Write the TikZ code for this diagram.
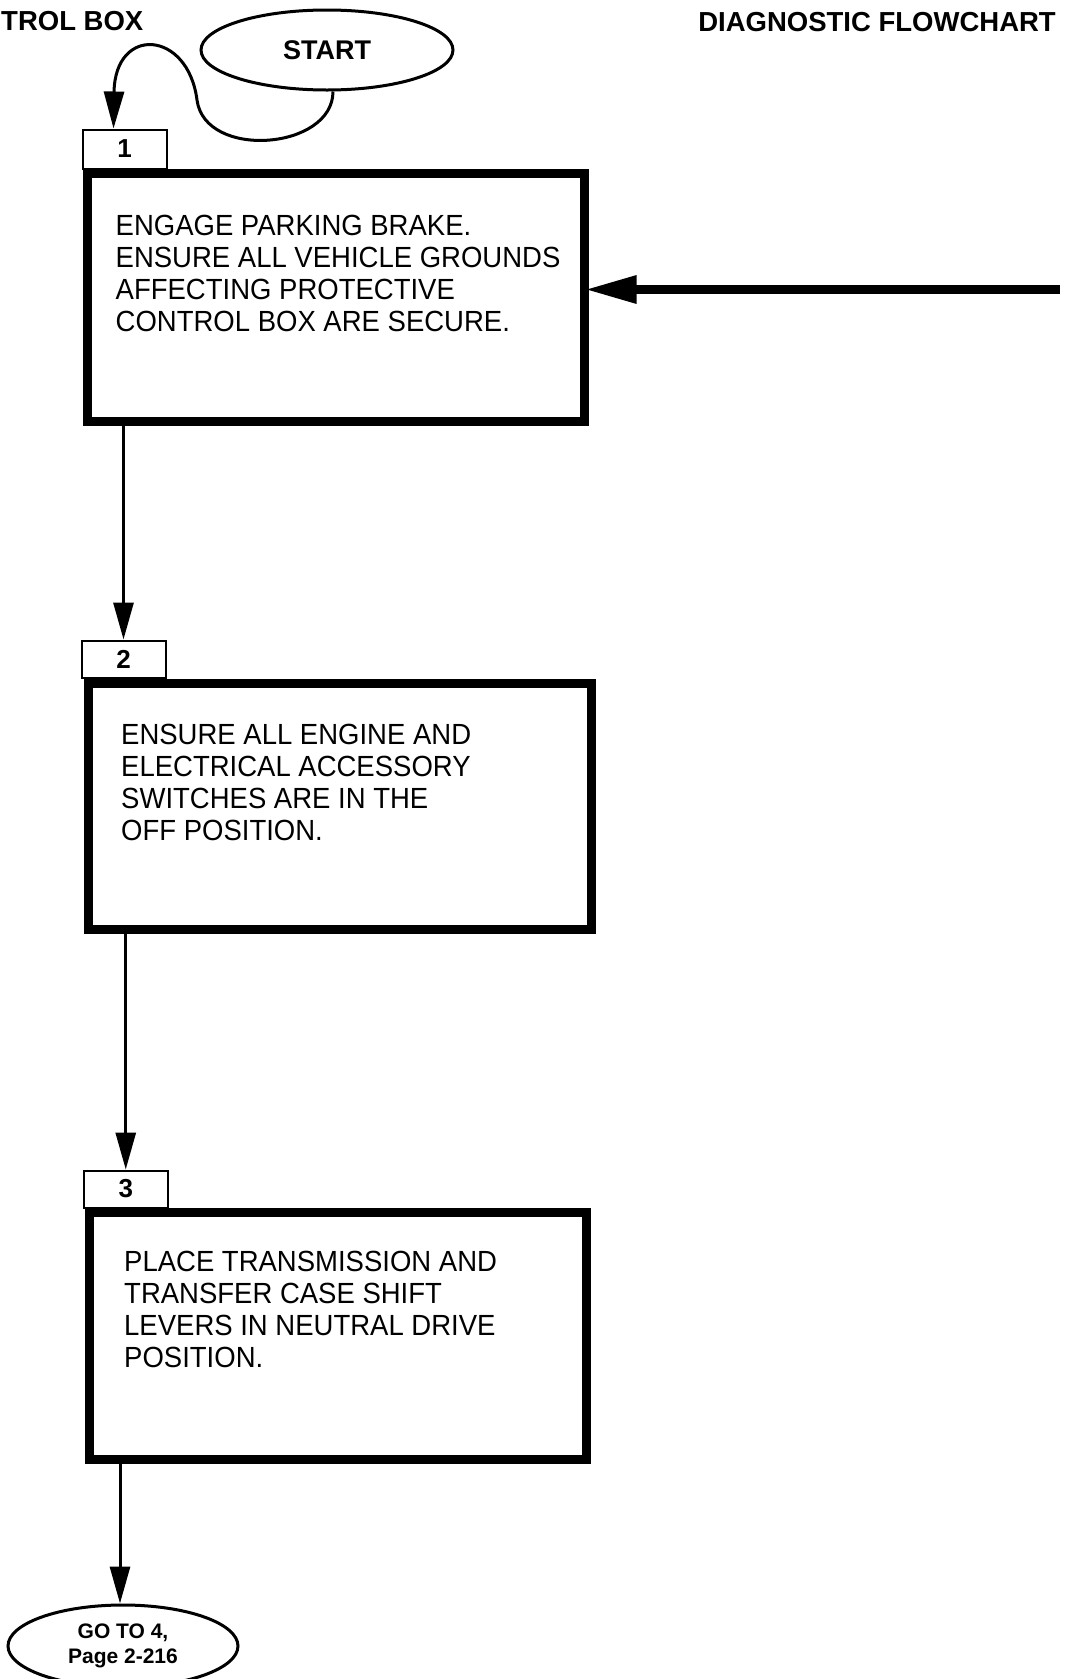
\documentclass[tikz,border=0pt]{standalone}
\usepackage{fontspec}
\setmainfont{Liberation Sans}
\usetikzlibrary{arrows.meta,calc,shapes.geometric}

\begin{document}
\begin{tikzpicture}[x=1pt,y=-1pt,
  stepbox/.style={draw, rectangle, line width=9pt, inner sep=0pt},
  tab/.style={draw, rectangle, line width=2pt, inner sep=0pt,
    font=\bfseries\fontsize{26}{26}\selectfont},
  body/.style={anchor=north west, inner sep=0pt, align=left, yscale=1.06,
    font=\fontsize{27.5}{30.2}\selectfont},
  term/.style={draw, ellipse, line width=3pt, inner sep=0pt, align=center},
  head/.style={inner sep=0pt, font=\bfseries\fontsize{27.5}{27.5}\selectfont},
  flow/.style={line width=3pt, -{Triangle[length=37pt,width=20pt]}},
  feed/.style={line width=9pt, -{Triangle[length=52pt,width=26pt]}}
]
\useasboundingbox (0,0) rectangle (1068,1679);

% page headers
\node[head, anchor=base west] (hdl) at (1,30) {TROL BOX};
\node[head, anchor=base east] (hdr) at (1056,31) {DIAGNOSTIC FLOWCHART};

% terminals
\node[term, minimum width=252pt, minimum height=80pt,
  font=\bfseries\fontsize{27}{27}\selectfont] (start) at (327,50) {START};
\node[term, minimum width=230pt, minimum height=82pt,
  font=\bfseries\fontsize{21}{25}\selectfont] (goto) at (123,1646)
  {GO TO 4,\\Page 2-216};

% step 1
\node[tab, minimum width=84pt, minimum height=39pt] (tab1) at (124.5,149) {1};
\node[stepbox, minimum width=497.5pt, minimum height=248pt] (box1) at (335.75,297.5) {};
\node[body] (txt1) at (115.5,214.5) {ENGAGE PARKING BRAKE.\\ENSURE ALL VEHICLE GROUNDS\\AFFECTING PROTECTIVE\\CONTROL BOX ARE SECURE.};

% step 2
\node[tab, minimum width=84pt, minimum height=37pt] (tab2) at (123.5,659) {2};
\node[stepbox, minimum width=503pt, minimum height=246pt] (box2) at (339.5,806.5) {};
\node[body] (txt2) at (121,723.5) {ENSURE ALL ENGINE AND\\ELECTRICAL ACCESSORY\\SWITCHES ARE IN THE\\OFF POSITION.};

% step 3
\node[tab, minimum width=84pt, minimum height=37pt] (tab3) at (125.75,1189) {3};
\node[stepbox, minimum width=497.5pt, minimum height=247pt] (box3) at (337.75,1336) {};
\node[body] (txt3) at (124,1250.5) {PLACE TRANSMISSION AND\\TRANSFER CASE SHIFT\\LEVERS IN NEUTRAL DRIVE\\POSITION.};

% connectors
\draw[flow] (start.south -| 333,0) .. controls (333,150) and (205,160) .. (197,100)
  .. controls (188,30) and (115,25) .. ([xshift=-11pt]tab1.north);
\draw[flow] (tab2.north |- box1.south) -- (tab2.north);
\draw[flow] (tab3.north |- box2.south) -- (tab3.north);
\draw[flow] ([xshift=-3pt]goto.north |- box3.south) -- ([xshift=-3pt]goto.north);

\coordinate (entry) at (1060,289.5);
\draw[feed, shorten >=-4.5pt] (entry) -- (entry -| box1.east);
\end{tikzpicture}
\end{document}
